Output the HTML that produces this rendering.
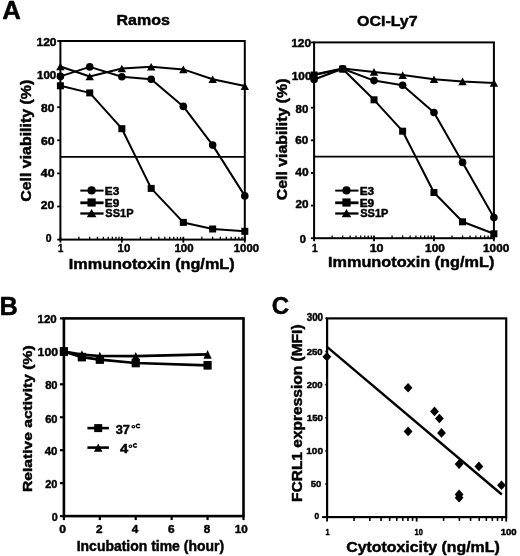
<!DOCTYPE html>
<html><head><meta charset="utf-8"><style>
html,body{margin:0;padding:0;background:#fff;}
svg{display:block;will-change:transform;filter:blur(0.3px);}
text{font-family:"Liberation Sans",sans-serif;font-weight:bold;fill:#000;stroke:#000;stroke-width:0.45px;stroke-linejoin:round;}
</style></head><body>
<svg width="520" height="556" viewBox="0 0 520 556" stroke="#000" fill="#000">
<rect x="0" y="0" width="520" height="556" fill="#fff" stroke="none"/>
<g stroke="none">
</g>
<text x="2.13" y="18.80" font-size="25.94" textLength="18.60" lengthAdjust="spacingAndGlyphs">A</text>
<text x="-0.58" y="314.80" font-size="25.94" textLength="18.35" lengthAdjust="spacingAndGlyphs">B</text>
<text x="271.83" y="314.25" font-size="24.65" textLength="17.44" lengthAdjust="spacingAndGlyphs">C</text>
<rect x="60.40" y="41.00" width="184.40" height="198.60" fill="none" stroke-width="2"/>
<line x1="57.20" y1="239.60" x2="60.40" y2="239.60" stroke-width="1.8"/>
<line x1="57.20" y1="206.50" x2="60.40" y2="206.50" stroke-width="1.8"/>
<line x1="57.20" y1="173.40" x2="60.40" y2="173.40" stroke-width="1.8"/>
<line x1="57.20" y1="140.30" x2="60.40" y2="140.30" stroke-width="1.8"/>
<line x1="57.20" y1="107.20" x2="60.40" y2="107.20" stroke-width="1.8"/>
<line x1="57.20" y1="74.10" x2="60.40" y2="74.10" stroke-width="1.8"/>
<line x1="57.20" y1="41.00" x2="60.40" y2="41.00" stroke-width="1.8"/>
<line x1="78.90" y1="239.60" x2="78.90" y2="236.80" stroke-width="1.3"/>
<line x1="89.73" y1="239.60" x2="89.73" y2="236.80" stroke-width="1.3"/>
<line x1="97.41" y1="239.60" x2="97.41" y2="236.80" stroke-width="1.3"/>
<line x1="103.36" y1="239.60" x2="103.36" y2="236.80" stroke-width="1.3"/>
<line x1="108.23" y1="239.60" x2="108.23" y2="236.80" stroke-width="1.3"/>
<line x1="112.35" y1="239.60" x2="112.35" y2="236.80" stroke-width="1.3"/>
<line x1="115.91" y1="239.60" x2="115.91" y2="236.80" stroke-width="1.3"/>
<line x1="119.05" y1="239.60" x2="119.05" y2="236.80" stroke-width="1.3"/>
<line x1="140.37" y1="239.60" x2="140.37" y2="236.80" stroke-width="1.3"/>
<line x1="151.19" y1="239.60" x2="151.19" y2="236.80" stroke-width="1.3"/>
<line x1="158.87" y1="239.60" x2="158.87" y2="236.80" stroke-width="1.3"/>
<line x1="164.83" y1="239.60" x2="164.83" y2="236.80" stroke-width="1.3"/>
<line x1="169.70" y1="239.60" x2="169.70" y2="236.80" stroke-width="1.3"/>
<line x1="173.81" y1="239.60" x2="173.81" y2="236.80" stroke-width="1.3"/>
<line x1="177.38" y1="239.60" x2="177.38" y2="236.80" stroke-width="1.3"/>
<line x1="180.52" y1="239.60" x2="180.52" y2="236.80" stroke-width="1.3"/>
<line x1="201.84" y1="239.60" x2="201.84" y2="236.80" stroke-width="1.3"/>
<line x1="212.66" y1="239.60" x2="212.66" y2="236.80" stroke-width="1.3"/>
<line x1="220.34" y1="239.60" x2="220.34" y2="236.80" stroke-width="1.3"/>
<line x1="226.30" y1="239.60" x2="226.30" y2="236.80" stroke-width="1.3"/>
<line x1="231.16" y1="239.60" x2="231.16" y2="236.80" stroke-width="1.3"/>
<line x1="235.28" y1="239.60" x2="235.28" y2="236.80" stroke-width="1.3"/>
<line x1="238.84" y1="239.60" x2="238.84" y2="236.80" stroke-width="1.3"/>
<line x1="241.99" y1="239.60" x2="241.99" y2="236.80" stroke-width="1.3"/>
<line x1="60.40" y1="242.60" x2="60.40" y2="236.80" stroke-width="1.8"/>
<line x1="121.87" y1="242.60" x2="121.87" y2="236.80" stroke-width="1.8"/>
<line x1="183.33" y1="242.60" x2="183.33" y2="236.80" stroke-width="1.8"/>
<line x1="244.80" y1="242.60" x2="244.80" y2="236.80" stroke-width="1.8"/>
<line x1="60.40" y1="156.85" x2="244.80" y2="156.85" stroke-width="1.6"/>
<polyline points="60.40,66.50 89.73,76.50 121.87,68.50 151.19,66.70 183.33,69.40 212.66,79.30 244.80,86.10" fill="none" stroke-width="2" stroke-linejoin="round"/>
<polyline points="60.40,76.40 89.73,66.90 121.87,76.70 151.19,79.30 183.33,106.40 212.66,145.10 244.80,195.90" fill="none" stroke-width="2" stroke-linejoin="round"/>
<polyline points="60.40,85.80 89.73,92.90 121.87,128.70 151.19,188.40 183.33,222.40 212.66,229.00 244.80,231.30" fill="none" stroke-width="2" stroke-linejoin="round"/>
<path d="M60.40,62.70L64.60,70.30L56.20,70.30Z" stroke="none"/>
<path d="M89.73,72.70L93.93,80.30L85.53,80.30Z" stroke="none"/>
<path d="M121.87,64.70L126.07,72.30L117.67,72.30Z" stroke="none"/>
<path d="M151.19,62.90L155.39,70.50L146.99,70.50Z" stroke="none"/>
<path d="M183.33,65.60L187.53,73.20L179.13,73.20Z" stroke="none"/>
<path d="M212.66,75.50L216.86,83.10L208.46,83.10Z" stroke="none"/>
<path d="M244.80,82.30L249.00,89.90L240.60,89.90Z" stroke="none"/>
<circle cx="60.40" cy="76.40" r="3.8" stroke="none"/>
<circle cx="89.73" cy="66.90" r="3.8" stroke="none"/>
<circle cx="121.87" cy="76.70" r="3.8" stroke="none"/>
<circle cx="151.19" cy="79.30" r="3.8" stroke="none"/>
<circle cx="183.33" cy="106.40" r="3.8" stroke="none"/>
<circle cx="212.66" cy="145.10" r="3.8" stroke="none"/>
<circle cx="244.80" cy="195.90" r="3.8" stroke="none"/>
<rect x="56.90" y="82.30" width="7.0" height="7.0" stroke="none"/>
<rect x="86.23" y="89.40" width="7.0" height="7.0" stroke="none"/>
<rect x="118.37" y="125.20" width="7.0" height="7.0" stroke="none"/>
<rect x="147.69" y="184.90" width="7.0" height="7.0" stroke="none"/>
<rect x="179.83" y="218.90" width="7.0" height="7.0" stroke="none"/>
<rect x="209.16" y="225.50" width="7.0" height="7.0" stroke="none"/>
<rect x="241.30" y="227.80" width="7.0" height="7.0" stroke="none"/>
<text x="36.48" y="45.89" font-size="11.27" textLength="20.08" lengthAdjust="spacingAndGlyphs">120</text>
<text x="37.01" y="78.70" font-size="10.28" textLength="19.23" lengthAdjust="spacingAndGlyphs">100</text>
<text x="41.04" y="111.89" font-size="10.85" textLength="13.24" lengthAdjust="spacingAndGlyphs">80</text>
<text x="40.91" y="145.49" font-size="10.85" textLength="13.58" lengthAdjust="spacingAndGlyphs">60</text>
<text x="40.85" y="176.80" font-size="10.28" textLength="13.64" lengthAdjust="spacingAndGlyphs">40</text>
<text x="40.84" y="208.79" font-size="10.70" textLength="13.45" lengthAdjust="spacingAndGlyphs">20</text>
<text x="45.78" y="242.39" font-size="10.85" textLength="5.79" lengthAdjust="spacingAndGlyphs">0</text>
<text x="57.93" y="251.89" font-size="10.56" textLength="5.32" lengthAdjust="spacingAndGlyphs">1</text>
<text x="117.62" y="251.89" font-size="10.56" textLength="12.54" lengthAdjust="spacingAndGlyphs">10</text>
<text x="174.41" y="251.89" font-size="10.56" textLength="19.13" lengthAdjust="spacingAndGlyphs">100</text>
<text x="233.82" y="251.89" font-size="10.56" textLength="25.17" lengthAdjust="spacingAndGlyphs">1000</text>
<text x="116.58" y="24.80" font-size="14.78" textLength="53.33" lengthAdjust="spacingAndGlyphs">Ramos</text>
<text x="68.86" y="269.00" font-size="14.35" textLength="165.75" lengthAdjust="spacingAndGlyphs">Immunotoxin (ng/mL)</text>
<text transform="translate(31.00,201.74) rotate(-90)" font-size="14.49" textLength="122.00" lengthAdjust="spacingAndGlyphs">Cell viability (%)</text>
<line x1="80.30" y1="190.60" x2="103.60" y2="190.60" stroke-width="2.0"/>
<circle cx="91.60" cy="190.40" r="4.1" stroke="none"/>
<line x1="80.30" y1="202.80" x2="103.60" y2="202.80" stroke-width="2.8"/>
<rect x="87.50" y="198.40" width="8.2" height="8.2" stroke="none"/>
<line x1="80.30" y1="213.50" x2="103.60" y2="213.50" stroke-width="2.3"/>
<path d="M91.60,209.05L96.40,217.35L86.80,217.35Z" stroke="none"/>
<text x="104.88" y="195.00" font-size="10.72" textLength="14.42" lengthAdjust="spacingAndGlyphs">E3</text>
<text x="104.88" y="206.50" font-size="10.00" textLength="14.42" lengthAdjust="spacingAndGlyphs">E9</text>
<text x="105.37" y="217.30" font-size="11.16" textLength="28.14" lengthAdjust="spacingAndGlyphs">SS1P</text>
<rect x="314.10" y="42.40" width="179.80" height="195.80" fill="none" stroke-width="2"/>
<line x1="310.90" y1="238.20" x2="314.10" y2="238.20" stroke-width="1.8"/>
<line x1="310.90" y1="205.57" x2="314.10" y2="205.57" stroke-width="1.8"/>
<line x1="310.90" y1="172.93" x2="314.10" y2="172.93" stroke-width="1.8"/>
<line x1="310.90" y1="140.30" x2="314.10" y2="140.30" stroke-width="1.8"/>
<line x1="310.90" y1="107.67" x2="314.10" y2="107.67" stroke-width="1.8"/>
<line x1="310.90" y1="75.03" x2="314.10" y2="75.03" stroke-width="1.8"/>
<line x1="310.90" y1="42.40" x2="314.10" y2="42.40" stroke-width="1.8"/>
<line x1="332.14" y1="238.20" x2="332.14" y2="235.40" stroke-width="1.3"/>
<line x1="342.70" y1="238.20" x2="342.70" y2="235.40" stroke-width="1.3"/>
<line x1="350.18" y1="238.20" x2="350.18" y2="235.40" stroke-width="1.3"/>
<line x1="355.99" y1="238.20" x2="355.99" y2="235.40" stroke-width="1.3"/>
<line x1="360.74" y1="238.20" x2="360.74" y2="235.40" stroke-width="1.3"/>
<line x1="364.75" y1="238.20" x2="364.75" y2="235.40" stroke-width="1.3"/>
<line x1="368.23" y1="238.20" x2="368.23" y2="235.40" stroke-width="1.3"/>
<line x1="371.29" y1="238.20" x2="371.29" y2="235.40" stroke-width="1.3"/>
<line x1="392.08" y1="238.20" x2="392.08" y2="235.40" stroke-width="1.3"/>
<line x1="402.63" y1="238.20" x2="402.63" y2="235.40" stroke-width="1.3"/>
<line x1="410.12" y1="238.20" x2="410.12" y2="235.40" stroke-width="1.3"/>
<line x1="415.92" y1="238.20" x2="415.92" y2="235.40" stroke-width="1.3"/>
<line x1="420.67" y1="238.20" x2="420.67" y2="235.40" stroke-width="1.3"/>
<line x1="424.68" y1="238.20" x2="424.68" y2="235.40" stroke-width="1.3"/>
<line x1="428.16" y1="238.20" x2="428.16" y2="235.40" stroke-width="1.3"/>
<line x1="431.22" y1="238.20" x2="431.22" y2="235.40" stroke-width="1.3"/>
<line x1="452.01" y1="238.20" x2="452.01" y2="235.40" stroke-width="1.3"/>
<line x1="462.56" y1="238.20" x2="462.56" y2="235.40" stroke-width="1.3"/>
<line x1="470.05" y1="238.20" x2="470.05" y2="235.40" stroke-width="1.3"/>
<line x1="475.86" y1="238.20" x2="475.86" y2="235.40" stroke-width="1.3"/>
<line x1="480.60" y1="238.20" x2="480.60" y2="235.40" stroke-width="1.3"/>
<line x1="484.62" y1="238.20" x2="484.62" y2="235.40" stroke-width="1.3"/>
<line x1="488.09" y1="238.20" x2="488.09" y2="235.40" stroke-width="1.3"/>
<line x1="491.16" y1="238.20" x2="491.16" y2="235.40" stroke-width="1.3"/>
<line x1="314.10" y1="241.20" x2="314.10" y2="235.40" stroke-width="1.8"/>
<line x1="374.03" y1="241.20" x2="374.03" y2="235.40" stroke-width="1.8"/>
<line x1="433.97" y1="241.20" x2="433.97" y2="235.40" stroke-width="1.8"/>
<line x1="493.90" y1="241.20" x2="493.90" y2="235.40" stroke-width="1.8"/>
<line x1="314.10" y1="156.62" x2="493.90" y2="156.62" stroke-width="1.6"/>
<polyline points="314.10,74.50 342.70,68.50 374.03,71.90 402.63,75.10 433.97,79.30 462.56,81.40 493.90,82.90" fill="none" stroke-width="2" stroke-linejoin="round"/>
<polyline points="314.10,79.50 342.70,68.80 374.03,80.60 402.63,85.30 433.97,112.50 462.56,162.40 493.90,217.60" fill="none" stroke-width="2" stroke-linejoin="round"/>
<polyline points="314.10,75.00 342.70,69.00 374.03,99.80 402.63,131.20 433.97,192.50 462.56,221.80 493.90,233.80" fill="none" stroke-width="2" stroke-linejoin="round"/>
<path d="M314.10,70.70L318.30,78.30L309.90,78.30Z" stroke="none"/>
<path d="M342.70,64.70L346.90,72.30L338.50,72.30Z" stroke="none"/>
<path d="M374.03,68.10L378.23,75.70L369.83,75.70Z" stroke="none"/>
<path d="M402.63,71.30L406.83,78.90L398.43,78.90Z" stroke="none"/>
<path d="M433.97,75.50L438.17,83.10L429.77,83.10Z" stroke="none"/>
<path d="M462.56,77.60L466.76,85.20L458.36,85.20Z" stroke="none"/>
<path d="M493.90,79.10L498.10,86.70L489.70,86.70Z" stroke="none"/>
<circle cx="314.10" cy="79.50" r="3.8" stroke="none"/>
<circle cx="342.70" cy="68.80" r="3.8" stroke="none"/>
<circle cx="374.03" cy="80.60" r="3.8" stroke="none"/>
<circle cx="402.63" cy="85.30" r="3.8" stroke="none"/>
<circle cx="433.97" cy="112.50" r="3.8" stroke="none"/>
<circle cx="462.56" cy="162.40" r="3.8" stroke="none"/>
<circle cx="493.90" cy="217.60" r="3.8" stroke="none"/>
<rect x="310.60" y="71.50" width="7.0" height="7.0" stroke="none"/>
<rect x="339.20" y="65.50" width="7.0" height="7.0" stroke="none"/>
<rect x="370.53" y="96.30" width="7.0" height="7.0" stroke="none"/>
<rect x="399.13" y="127.70" width="7.0" height="7.0" stroke="none"/>
<rect x="430.47" y="189.00" width="7.0" height="7.0" stroke="none"/>
<rect x="459.06" y="218.30" width="7.0" height="7.0" stroke="none"/>
<rect x="490.40" y="230.30" width="7.0" height="7.0" stroke="none"/>
<text x="291.18" y="47.09" font-size="11.13" textLength="20.08" lengthAdjust="spacingAndGlyphs">120</text>
<text x="291.79" y="80.20" font-size="10.42" textLength="19.66" lengthAdjust="spacingAndGlyphs">100</text>
<text x="295.56" y="112.79" font-size="10.99" textLength="12.71" lengthAdjust="spacingAndGlyphs">80</text>
<text x="295.33" y="144.20" font-size="10.42" textLength="12.94" lengthAdjust="spacingAndGlyphs">60</text>
<text x="295.26" y="175.59" font-size="10.85" textLength="13.33" lengthAdjust="spacingAndGlyphs">40</text>
<text x="295.55" y="207.90" font-size="10.42" textLength="13.03" lengthAdjust="spacingAndGlyphs">20</text>
<text x="299.66" y="243.10" font-size="10.14" textLength="6.14" lengthAdjust="spacingAndGlyphs">0</text>
<text x="311.99" y="252.49" font-size="10.56" textLength="5.68" lengthAdjust="spacingAndGlyphs">1</text>
<text x="369.65" y="252.49" font-size="10.56" textLength="13.85" lengthAdjust="spacingAndGlyphs">10</text>
<text x="425.09" y="252.49" font-size="10.56" textLength="19.66" lengthAdjust="spacingAndGlyphs">100</text>
<text x="483.10" y="252.49" font-size="10.56" textLength="26.11" lengthAdjust="spacingAndGlyphs">1000</text>
<text x="357.06" y="26.10" font-size="14.49" textLength="60.58" lengthAdjust="spacingAndGlyphs">OCI-Ly7</text>
<text x="327.96" y="266.60" font-size="15.07" textLength="166.36" lengthAdjust="spacingAndGlyphs">Immunotoxin (ng/mL)</text>
<text transform="translate(286.50,200.23) rotate(-90)" font-size="14.78" textLength="121.70" lengthAdjust="spacingAndGlyphs">Cell viability (%)</text>
<line x1="335.20" y1="190.60" x2="358.50" y2="190.60" stroke-width="2.0"/>
<circle cx="346.50" cy="190.40" r="4.1" stroke="none"/>
<line x1="335.20" y1="202.80" x2="358.50" y2="202.80" stroke-width="2.8"/>
<rect x="342.40" y="198.40" width="8.2" height="8.2" stroke="none"/>
<line x1="335.20" y1="213.50" x2="358.50" y2="213.50" stroke-width="2.3"/>
<path d="M346.50,209.05L351.30,217.35L341.70,217.35Z" stroke="none"/>
<text x="359.78" y="195.00" font-size="10.72" textLength="14.42" lengthAdjust="spacingAndGlyphs">E3</text>
<text x="359.78" y="206.50" font-size="10.00" textLength="14.42" lengthAdjust="spacingAndGlyphs">E9</text>
<text x="360.27" y="217.30" font-size="11.16" textLength="28.14" lengthAdjust="spacingAndGlyphs">SS1P</text>
<rect x="63.90" y="318.40" width="179.60" height="197.70" fill="none" stroke-width="2.6"/>
<line x1="59.90" y1="516.10" x2="63.90" y2="516.10" stroke-width="2.2"/>
<line x1="59.90" y1="483.15" x2="63.90" y2="483.15" stroke-width="2.2"/>
<line x1="59.90" y1="450.20" x2="63.90" y2="450.20" stroke-width="2.2"/>
<line x1="59.90" y1="417.25" x2="63.90" y2="417.25" stroke-width="2.2"/>
<line x1="59.90" y1="384.30" x2="63.90" y2="384.30" stroke-width="2.2"/>
<line x1="59.90" y1="351.35" x2="63.90" y2="351.35" stroke-width="2.2"/>
<line x1="59.90" y1="318.40" x2="63.90" y2="318.40" stroke-width="2.2"/>
<line x1="63.90" y1="516.10" x2="63.90" y2="520.10" stroke-width="2.2"/>
<line x1="99.82" y1="516.10" x2="99.82" y2="520.10" stroke-width="2.2"/>
<line x1="135.74" y1="516.10" x2="135.74" y2="520.10" stroke-width="2.2"/>
<line x1="171.66" y1="516.10" x2="171.66" y2="520.10" stroke-width="2.2"/>
<line x1="207.58" y1="516.10" x2="207.58" y2="520.10" stroke-width="2.2"/>
<line x1="243.50" y1="516.10" x2="243.50" y2="520.10" stroke-width="2.2"/>
<polyline points="63.90,351.50 81.86,354.60 99.82,356.00 135.74,356.20 207.58,354.40" fill="none" stroke-width="2.7" stroke-linejoin="round"/>
<polyline points="63.90,351.40 81.86,357.10 99.82,359.60 135.74,363.00 207.58,365.30" fill="none" stroke-width="2.7" stroke-linejoin="round"/>
<path d="M63.90,347.20L68.00,355.80L59.80,355.80Z" stroke="none"/>
<path d="M81.86,350.30L85.96,358.90L77.76,358.90Z" stroke="none"/>
<path d="M99.82,351.70L103.92,360.30L95.72,360.30Z" stroke="none"/>
<path d="M135.74,351.90L139.84,360.50L131.64,360.50Z" stroke="none"/>
<path d="M207.58,350.10L211.68,358.70L203.48,358.70Z" stroke="none"/>
<rect x="59.80" y="347.10" width="8.2" height="8.6" stroke="none"/>
<rect x="77.76" y="352.80" width="8.2" height="8.6" stroke="none"/>
<rect x="95.72" y="355.30" width="8.2" height="8.6" stroke="none"/>
<rect x="131.64" y="358.70" width="8.2" height="8.6" stroke="none"/>
<rect x="203.48" y="361.00" width="8.2" height="8.6" stroke="none"/>
<text x="37.51" y="323.18" font-size="11.55" textLength="19.13" lengthAdjust="spacingAndGlyphs">120</text>
<text x="37.56" y="356.38" font-size="11.69" textLength="20.51" lengthAdjust="spacingAndGlyphs">100</text>
<text x="45.17" y="388.88" font-size="11.55" textLength="12.39" lengthAdjust="spacingAndGlyphs">80</text>
<text x="45.16" y="422.59" font-size="11.41" textLength="12.30" lengthAdjust="spacingAndGlyphs">60</text>
<text x="44.77" y="455.39" font-size="11.41" textLength="12.70" lengthAdjust="spacingAndGlyphs">40</text>
<text x="45.27" y="488.29" font-size="10.99" textLength="12.18" lengthAdjust="spacingAndGlyphs">20</text>
<text x="51.87" y="520.78" font-size="11.69" textLength="6.02" lengthAdjust="spacingAndGlyphs">0</text>
<text x="59.32" y="533.29" font-size="11.27" textLength="6.72" lengthAdjust="spacingAndGlyphs">0</text>
<text x="95.94" y="533.29" font-size="11.27" textLength="6.58" lengthAdjust="spacingAndGlyphs">2</text>
<text x="131.67" y="533.29" font-size="11.27" textLength="6.51" lengthAdjust="spacingAndGlyphs">4</text>
<text x="168.03" y="533.29" font-size="11.27" textLength="6.60" lengthAdjust="spacingAndGlyphs">6</text>
<text x="203.65" y="533.29" font-size="11.27" textLength="6.45" lengthAdjust="spacingAndGlyphs">8</text>
<text x="234.70" y="533.29" font-size="11.27" textLength="12.98" lengthAdjust="spacingAndGlyphs">10</text>
<text x="76.72" y="551.30" font-size="13.91" textLength="147.33" lengthAdjust="spacingAndGlyphs">Incubation time (hour)</text>
<text transform="translate(31.80,491.99) rotate(-90)" font-size="13.33" textLength="146.60" lengthAdjust="spacingAndGlyphs">Relative activity (%)</text>
<line x1="87.40" y1="428.10" x2="108.90" y2="428.10" stroke-width="2.6"/>
<rect x="94.20" y="424.10" width="8.0" height="8.0" stroke="none"/>
<line x1="87.40" y1="447.60" x2="108.90" y2="447.60" stroke-width="2.6"/>
<path d="M98.20,443.50L102.50,451.70L93.90,451.70Z" stroke="none"/>
<text x="115.64" y="433.67" font-size="12.96" textLength="14.19" lengthAdjust="spacingAndGlyphs">37</text>
<ellipse cx="133.30" cy="426.70" rx="1.35" ry="1.2" fill="none" stroke-width="1.1"/>
<path d="M139.87,424.94 A2.05,1.65 0 1 0 139.87,427.06" fill="none" stroke-width="1.35"/>
<text x="119.91" y="453.47" font-size="12.68" textLength="8.18" lengthAdjust="spacingAndGlyphs">4</text>
<ellipse cx="130.40" cy="446.20" rx="1.35" ry="1.2" fill="none" stroke-width="1.1"/>
<path d="M136.72,444.47 A1.85,1.60 0 1 0 136.72,446.53" fill="none" stroke-width="1.35"/>
<rect x="327.10" y="318.40" width="179.10" height="198.70" fill="none" stroke-width="2.2"/>
<line x1="325.30" y1="517.10" x2="327.10" y2="517.10" stroke-width="1.6"/>
<line x1="325.30" y1="483.98" x2="327.10" y2="483.98" stroke-width="1.6"/>
<line x1="325.30" y1="450.87" x2="327.10" y2="450.87" stroke-width="1.6"/>
<line x1="325.30" y1="417.75" x2="327.10" y2="417.75" stroke-width="1.6"/>
<line x1="325.30" y1="384.63" x2="327.10" y2="384.63" stroke-width="1.6"/>
<line x1="325.30" y1="351.52" x2="327.10" y2="351.52" stroke-width="1.6"/>
<line x1="325.30" y1="318.40" x2="327.10" y2="318.40" stroke-width="1.6"/>
<line x1="322.10" y1="517.10" x2="327.10" y2="517.10" stroke-width="2"/>
<line x1="354.06" y1="517.10" x2="354.06" y2="520.90" stroke-width="1.6"/>
<line x1="369.83" y1="517.10" x2="369.83" y2="520.90" stroke-width="1.6"/>
<line x1="381.01" y1="517.10" x2="381.01" y2="520.90" stroke-width="1.6"/>
<line x1="389.69" y1="517.10" x2="389.69" y2="520.90" stroke-width="1.6"/>
<line x1="396.78" y1="517.10" x2="396.78" y2="520.90" stroke-width="1.6"/>
<line x1="402.78" y1="517.10" x2="402.78" y2="520.90" stroke-width="1.6"/>
<line x1="407.97" y1="517.10" x2="407.97" y2="520.90" stroke-width="1.6"/>
<line x1="412.55" y1="517.10" x2="412.55" y2="520.90" stroke-width="1.6"/>
<line x1="443.61" y1="517.10" x2="443.61" y2="520.90" stroke-width="1.6"/>
<line x1="459.38" y1="517.10" x2="459.38" y2="520.90" stroke-width="1.6"/>
<line x1="470.56" y1="517.10" x2="470.56" y2="520.90" stroke-width="1.6"/>
<line x1="479.24" y1="517.10" x2="479.24" y2="520.90" stroke-width="1.6"/>
<line x1="486.33" y1="517.10" x2="486.33" y2="520.90" stroke-width="1.6"/>
<line x1="492.33" y1="517.10" x2="492.33" y2="520.90" stroke-width="1.6"/>
<line x1="497.52" y1="517.10" x2="497.52" y2="520.90" stroke-width="1.6"/>
<line x1="502.10" y1="517.10" x2="502.10" y2="520.90" stroke-width="1.6"/>
<line x1="327.10" y1="517.10" x2="327.10" y2="521.60" stroke-width="1.8"/>
<line x1="416.65" y1="517.10" x2="416.65" y2="521.60" stroke-width="1.8"/>
<line x1="506.20" y1="517.10" x2="506.20" y2="521.60" stroke-width="1.8"/>
<line x1="327.00" y1="346.80" x2="501.80" y2="494.50" stroke-width="2.4"/>
<path d="M326.90,351.90L331.30,356.70L326.90,361.50L322.50,356.70Z" stroke="none"/>
<path d="M408.10,383.00L412.50,387.80L408.10,392.60L403.70,387.80Z" stroke="none"/>
<path d="M408.10,426.60L412.50,431.40L408.10,436.20L403.70,431.40Z" stroke="none"/>
<path d="M434.50,406.60L438.90,411.40L434.50,416.20L430.10,411.40Z" stroke="none"/>
<path d="M439.40,413.70L443.80,418.50L439.40,423.30L435.00,418.50Z" stroke="none"/>
<path d="M441.50,428.10L445.90,432.90L441.50,437.70L437.10,432.90Z" stroke="none"/>
<path d="M459.10,459.30L463.50,464.10L459.10,468.90L454.70,464.10Z" stroke="none"/>
<path d="M478.90,461.60L483.30,466.40L478.90,471.20L474.50,466.40Z" stroke="none"/>
<path d="M501.50,480.50L505.90,485.30L501.50,490.10L497.10,485.30Z" stroke="none"/>
<path d="M459.10,489.60L463.50,494.40L459.10,499.20L454.70,494.40Z" stroke="none"/>
<path d="M459.10,493.00L463.50,497.80L459.10,502.60L454.70,497.80Z" stroke="none"/>
<text x="306.70" y="321.30" font-size="10.14" textLength="16.37" lengthAdjust="spacingAndGlyphs">300</text>
<text x="306.71" y="354.50" font-size="9.86" textLength="15.95" lengthAdjust="spacingAndGlyphs">250</text>
<text x="306.71" y="387.80" font-size="9.86" textLength="15.95" lengthAdjust="spacingAndGlyphs">200</text>
<text x="306.72" y="420.70" font-size="9.86" textLength="16.26" lengthAdjust="spacingAndGlyphs">150</text>
<text x="306.30" y="453.70" font-size="9.86" textLength="16.68" lengthAdjust="spacingAndGlyphs">100</text>
<text x="310.72" y="486.70" font-size="9.72" textLength="10.49" lengthAdjust="spacingAndGlyphs">50</text>
<text x="314.47" y="519.40" font-size="9.58" textLength="4.63" lengthAdjust="spacingAndGlyphs">0</text>
<text x="325.57" y="534.50" font-size="9.72" textLength="4.02" lengthAdjust="spacingAndGlyphs">1</text>
<text x="414.56" y="535.11" font-size="9.44" textLength="8.18" lengthAdjust="spacingAndGlyphs">10</text>
<text x="500.73" y="535.11" font-size="9.44" textLength="15.94" lengthAdjust="spacingAndGlyphs">100</text>
<text x="346.27" y="551.50" font-size="14.49" textLength="153.42" lengthAdjust="spacingAndGlyphs">Cytotoxicity (ng/mL)</text>
<text transform="translate(302.00,501.99) rotate(-90)" font-size="13.77" textLength="177.54" lengthAdjust="spacingAndGlyphs">FCRL1 expression (MFI)</text>
</svg>
</body></html>
